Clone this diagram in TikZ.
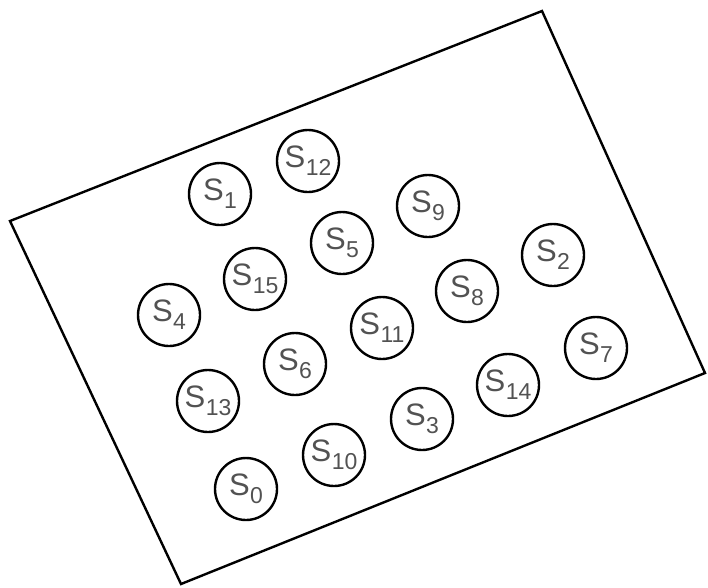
\documentclass[tikz,border=0pt]{standalone}
\usepackage{fontspec}
\setmainfont{Liberation Sans}
\newcommand{\slab}[1]{S\kern0.5pt\raisebox{-8pt}{\fontsize{23}{23}\selectfont #1}}
\begin{document}
\begin{tikzpicture}[x=1pt,y=-1pt,
  sensor/.style={circle,draw=black,line width=2.4pt,minimum size=62pt,inner sep=0pt,
    text=black!68,font=\fontsize{31}{31}\selectfont},
  frame/.style={draw=black,line width=2.4pt,line join=miter}]
\useasboundingbox (0,0) rectangle (708,587);
\coordinate (c1) at (542,11);
\coordinate (c2) at (705,373);
\coordinate (c3) at (181,584);
\coordinate (c4) at (10,221);
\draw[frame] (c1) -- (c2) -- (c3) -- (c4) -- cycle;
\node[sensor] (s1) at (220,194) {\slab{1}};
\node[sensor] (s12) at (308,161) {\slab{12}};
\node[sensor] (s9) at (428,206) {\slab{9}};
\node[sensor] (s5) at (342,243) {\slab{5}};
\node[sensor] (s2) at (553,255) {\slab{2}};
\node[sensor] (s15) at (255,279) {\slab{15}};
\node[sensor] (s4) at (169,315) {\slab{4}};
\node[sensor] (s8) at (467,291) {\slab{8}};
\node[sensor] (s11) at (382,328) {\slab{11}};
\node[sensor] (s7) at (596,348) {\slab{7}};
\node[sensor] (s6) at (295,364) {\slab{6}};
\node[sensor] (s14) at (508,385) {\slab{14}};
\node[sensor] (s13) at (208,401) {\slab{13}};
\node[sensor] (s3) at (422,419) {\slab{3}};
\node[sensor] (s10) at (334,455) {\slab{10}};
\node[sensor] (s0) at (246,489) {\slab{0}};
\end{tikzpicture}
\end{document}
